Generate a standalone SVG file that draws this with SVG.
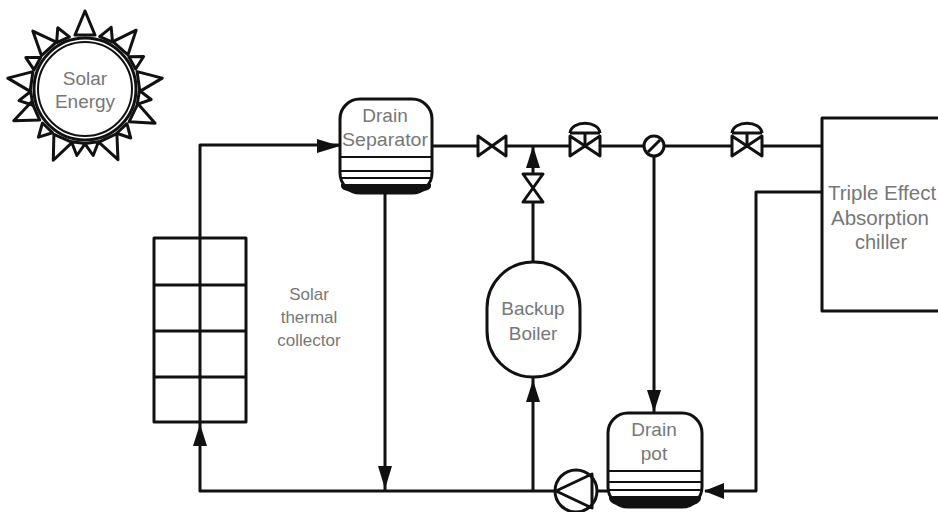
<svg xmlns="http://www.w3.org/2000/svg" width="938" height="512" viewBox="0 0 938 512">
<style>
.s{fill:none;stroke:#111;stroke-width:3;stroke-linejoin:round}
.n{fill:none;stroke:#111;stroke-width:2}
.w{fill:#fff;stroke:#111;stroke-width:3;stroke-linejoin:round}
.h{fill:#111;stroke:none}
.t{font-family:"Liberation Sans",Arial,sans-serif;font-size:19px;fill:#777;text-anchor:middle}
.c{font-size:17px}
</style>
<defs>
<path id="valve" class="w" d="M-14,-10L14,10V-10L-14,10Z"/>
<g id="cvalve"><path class="w" d="M-15,-10L15,10V-10L-15,10Z"/><path class="s" d="M0,0V-13M-15,-13H15M-15,-13C-14,-26 14,-26 15,-13"/></g>
<path id="big" class="s" d="M85,11L75,35H95Z"/>
<path id="small" class="s" d="M85,22L78,35H92Z"/>
</defs>
<rect width="938" height="512" fill="#fff"/>
<g id="connectors">
<path class="s" d="M200,237V145H340"/>
<path class="s" d="M200,422V491H608"/>
<path class="s" d="M385,193V491"/>
<path class="s" d="M432,146H822"/>
<path class="s" d="M533,147V262"/>
<path class="s" d="M533,377V491"/>
<path class="s" d="M654,146V413"/>
<path class="s" d="M822,192H756V491H705"/>
<path class="h" d="M340,146L317,139V153Z"/>
<path class="h" d="M385,489L378,466H392Z"/>
<path class="h" d="M200,424L193,446H207Z"/>
<path class="h" d="M533,146L526,168H540Z"/>
<path class="h" d="M533,380L526,402H540Z"/>
<path class="h" d="M654,412L647,390H661Z"/>
<path class="h" d="M704,491L724,483V499Z"/>
</g>
<g id="sun">
<circle cx="85" cy="89" r="51" class="s"/>
<circle cx="85" cy="89" r="47" class="n"/>
<use href="#big"/>
<use href="#big" transform="rotate(41 85 89)"/>
<use href="#big" transform="rotate(82 85 89)"/>
<use href="#big" transform="rotate(116 85 89)"/>
<use href="#big" transform="rotate(155 85 89)"/>
<use href="#big" transform="rotate(204 85 89)"/>
<use href="#big" transform="rotate(246 85 89)"/>
<use href="#big" transform="rotate(278 85 89)"/>
<use href="#big" transform="rotate(318 85 89)"/>
<use href="#small" transform="rotate(23 85 89)"/>
<use href="#small" transform="rotate(61 85 89)"/>
<use href="#small" transform="rotate(99 85 89)"/>
<use href="#small" transform="rotate(137 85 89)"/>
<use href="#small" transform="rotate(173 85 89)"/>
<use href="#small" transform="rotate(187 85 89)"/>
<use href="#small" transform="rotate(224 85 89)"/>
<use href="#small" transform="rotate(260 85 89)"/>
<use href="#small" transform="rotate(298 85 89)"/>
<use href="#small" transform="rotate(336 85 89)"/>
<text class="t" x="85" y="85">Solar</text>
<text class="t" x="85" y="108">Energy</text>
</g>
<g id="collector">
<rect class="w" x="154" y="238" width="92" height="184"/>
<path class="s" d="M200,238V422M154,285H246M154,331H246M154,377H246"/>
</g>
<g id="collector-label">
<text class="t c" x="309" y="300">Solar</text>
<text class="t c" x="309" y="323">thermal</text>
<text class="t c" x="309" y="346">collector</text>
</g>
<g id="separator">
<rect class="w" x="340" y="99" width="92" height="94" rx="20"/>
<path class="n" d="M340,157H432M340,171H432M340,178H432"/>
<path class="h" d="M341,184H431V186C431,190 424,192 414,192H358C348,192 341,190 341,186Z"/>
<text class="t" x="385" y="122">Drain</text>
<text class="t" x="385" y="146" textLength="86" lengthAdjust="spacingAndGlyphs">Separator</text>
</g>
<g id="valve1"><use href="#valve" x="492" y="146"/></g>
<g id="valve2"><use href="#valve" transform="translate(533,188) rotate(90)"/></g>
<g id="valve3"><use href="#cvalve" x="585" y="146"/></g>
<g id="valve4"><use href="#cvalve" x="747" y="146"/></g>
<g id="check"><circle class="w" cx="654" cy="146" r="10"/><path class="s" d="M648,152L660,140"/></g>
<g id="boiler">
<rect class="w" x="487" y="262" width="93" height="115" rx="46"/>
<text class="t" x="533" y="315">Backup</text>
<text class="t" x="533" y="340">Boiler</text>
</g>
<g id="drainpot">
<rect class="w" x="608" y="413" width="94" height="94" rx="20"/>
<path class="n" d="M608,471H702M608,482H702M608,490H702"/>
<path class="h" d="M609,496H701V498C701,503 694,506 684,506H626C616,506 609,503 609,498Z"/>
<text class="t" x="654" y="436">Drain</text>
<text class="t" x="654" y="460">pot</text>
</g>
<g id="pump">
<circle class="w" cx="576" cy="491" r="21"/>
<path class="s" d="M556,491L592,474V508Z"/>
</g>
<g id="chiller">
<path class="w" d="M938,118H822V311H938"/>
<text class="t" x="882" y="200" font-size="20" style="font-size:20.5px">Triple Effect</text>
<text class="t" x="880" y="225" style="font-size:20.5px">Absorption</text>
<text class="t" x="881" y="249" style="font-size:20px">chiller</text>
</g>
</svg>
